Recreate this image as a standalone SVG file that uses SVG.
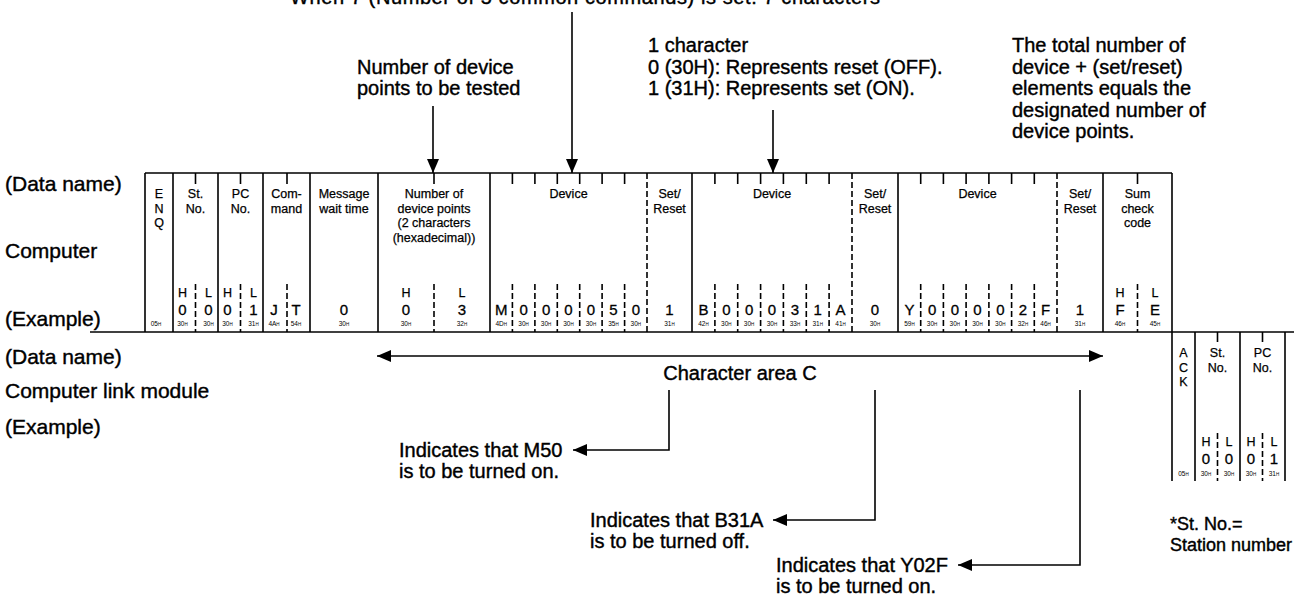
<svg xmlns="http://www.w3.org/2000/svg" width="1294" height="603" viewBox="0 0 1294 603">
<defs>
<marker id="ah" viewBox="0 0 14 12" refX="14" refY="6" markerWidth="14" markerHeight="12" markerUnits="userSpaceOnUse" orient="auto-start-reverse"><path d="M0,0 L14,6 L0,12 z" fill="#000"/></marker>
<style>
text{font-family:"Liberation Sans",Arial,sans-serif;fill:#000}
.a{font-size:20px;stroke:#000;stroke-width:0.4}
.l{font-size:21px;stroke:#000;stroke-width:0.4}
.n{font-size:18px;stroke:#000;stroke-width:0.4}
.h{font-size:12.5px;text-anchor:middle;stroke:#000;stroke-width:0.25}
.v{font-size:15px;text-anchor:middle;stroke:#000;stroke-width:0.3}
.x{font-size:6.5px;text-anchor:middle}
.x tspan{font-size:4.5px}
.s{stroke:#000;stroke-width:1.6;fill:none}
.d{stroke:#000;stroke-width:1.6;fill:none;stroke-dasharray:6 3}
.c{stroke:#000;stroke-width:1.6;fill:none}
</style>
</defs>
<rect width="1294" height="603" fill="#fff"/>

<g id="labels">
<text class="a" x="290" y="4" textLength="590" lengthAdjust="spacing">When 7 (Number of 5 common commands) is set: 7 characters</text>
<text class="a" x="357" y="74">Number of device</text>
<text class="a" x="357" y="95">points to be tested</text>
<text class="a" x="648" y="52">1 character</text>
<text class="a" x="648" y="74">0 (30H): Represents reset (OFF).</text>
<text class="a" x="648" y="95">1 (31H): Represents set (ON).</text>
<text class="a" x="1012" y="52">The total number of</text>
<text class="a" x="1012" y="74">device + (set/reset)</text>
<text class="a" x="1012" y="95">elements equals the</text>
<text class="a" x="1012" y="117">designated number of</text>
<text class="a" x="1012" y="138">device points.</text>
<text class="l" x="5" y="191">(Data name)</text>
<text class="l" x="5" y="258">Computer</text>
<text class="l" x="5" y="326">(Example)</text>
<text class="l" x="5" y="364">(Data name)</text>
<text class="l" x="5" y="398">Computer link module</text>
<text class="l" x="5" y="434">(Example)</text>
<text class="a" x="740" y="380" text-anchor="middle">Character area C</text>
<text class="a" x="399" y="457">Indicates that M50</text>
<text class="a" x="399" y="478">is to be turned on.</text>
<text class="a" x="590" y="527">Indicates that B31A</text>
<text class="a" x="590" y="548">is to be turned off.</text>
<text class="a" x="776" y="572">Indicates that Y02F</text>
<text class="a" x="776" y="593">is to be turned on.</text>
<text class="n" x="1170" y="530">*St. No.=</text>
<text class="n" x="1170" y="551">Station number</text>
</g>

<g id="computer-frame">
<path class="s" d="M145,173H1172 M145,173V332 M173,173V332 M218,173V332 M263,173V332 M310,173V332 M378,173V332 M490,173V332 M692,173V332 M898,173V332 M1103,173V332 M1172,173V332"/>
<path class="d" d="M647,173V332 M852,173V332 M1057,173V332"/>
<path class="s" d="M195.5,173V184 M240.5,173V184 M287,173V184 M434,173V184 M512.4,173V184 M534.9,173V184 M557.3,173V184 M579.7,173V184 M602.1,173V184 M624.6,173V184 M714.9,173V184 M737.7,173V184 M760.6,173V184 M783.4,173V184 M806.3,173V184 M829.1,173V184 M920.7,173V184 M943.4,173V184 M966.1,173V184 M988.9,173V184 M1011.6,173V184 M1034.3,173V184 M1137.5,173V184"/>
<path class="d" d="M195.5,284V332 M240.5,284V332 M287,284V332 M434,284V332 M512.4,284V332 M534.9,284V332 M557.3,284V332 M579.7,284V332 M602.1,284V332 M624.6,284V332 M714.9,284V332 M737.7,284V332 M760.6,284V332 M783.4,284V332 M806.3,284V332 M829.1,284V332 M920.7,284V332 M943.4,284V332 M966.1,284V332 M988.9,284V332 M1011.6,284V332 M1034.3,284V332 M1137.5,284V332"/>
<text class="h" x="159" y="198">E</text><text class="h" x="159" y="212.5">N</text><text class="h" x="159" y="227">Q</text>
<text class="h" x="195.5" y="198">St.</text><text class="h" x="195.5" y="212.5">No.</text>
<text class="h" x="240.5" y="198">PC</text><text class="h" x="240.5" y="212.5">No.</text>
<text class="h" x="286.5" y="198">Com-</text><text class="h" x="286.5" y="212.5">mand</text>
<text class="h" x="344" y="198">Message</text><text class="h" x="344" y="212.5">wait time</text>
<text class="h" x="434" y="198">Number of</text><text class="h" x="434" y="212.5">device points</text><text class="h" x="434" y="227">(2 characters</text><text class="h" x="434" y="241.5">(hexadecimal))</text>
<text class="h" x="568.5" y="198">Device</text>
<text class="h" x="669.5" y="198">Set/</text><text class="h" x="669.5" y="212.5">Reset</text>
<text class="h" x="772" y="198">Device</text>
<text class="h" x="875" y="198">Set/</text><text class="h" x="875" y="212.5">Reset</text>
<text class="h" x="977.5" y="198">Device</text>
<text class="h" x="1080" y="198">Set/</text><text class="h" x="1080" y="212.5">Reset</text>
<text class="h" x="1137.5" y="198">Sum</text><text class="h" x="1137.5" y="212.5">check</text><text class="h" x="1137.5" y="227">code</text>
<text class="h" x="182.5" y="297">H</text><text class="h" x="208.5" y="297">L</text>
<text class="h" x="227.5" y="297">H</text><text class="h" x="253.5" y="297">L</text>
<text class="h" x="406" y="297">H</text><text class="h" x="462" y="297">L</text>
<text class="h" x="1120" y="297">H</text><text class="h" x="1155" y="297">L</text>
<text class="v" x="182.5" y="315">0</text><text class="v" x="208.5" y="315">0</text>
<text class="v" x="227.5" y="315">0</text><text class="v" x="253.5" y="315">1</text>
<text class="v" x="274" y="315">J</text><text class="v" x="296" y="315">T</text>
<text class="v" x="344" y="315">0</text>
<text class="v" x="406" y="315">0</text><text class="v" x="462" y="315">3</text>
<text class="v" x="501.2" y="315">M</text><text class="v" x="523.6" y="315">0</text><text class="v" x="546.1" y="315">0</text><text class="v" x="568.5" y="315">0</text><text class="v" x="590.9" y="315">0</text><text class="v" x="613.4" y="315">5</text><text class="v" x="635.8" y="315">0</text>
<text class="v" x="669.5" y="315">1</text>
<text class="v" x="703.4" y="315">B</text><text class="v" x="726.3" y="315">0</text><text class="v" x="749.1" y="315">0</text><text class="v" x="772" y="315">0</text><text class="v" x="794.9" y="315">3</text><text class="v" x="817.7" y="315">1</text><text class="v" x="840.6" y="315">A</text>
<text class="v" x="875" y="315">0</text>
<text class="v" x="909.4" y="315">Y</text><text class="v" x="932.1" y="315">0</text><text class="v" x="954.8" y="315">0</text><text class="v" x="977.5" y="315">0</text><text class="v" x="1000.3" y="315">0</text><text class="v" x="1023" y="315">2</text><text class="v" x="1045.6" y="315">F</text>
<text class="v" x="1080" y="315">1</text>
<text class="v" x="1120" y="315">F</text><text class="v" x="1155" y="315">E</text>
<text class="x" x="156" y="326">05<tspan>H</tspan></text>
<text class="x" x="182.5" y="326">30<tspan>H</tspan></text><text class="x" x="208.5" y="326">30<tspan>H</tspan></text>
<text class="x" x="227.5" y="326">30<tspan>H</tspan></text><text class="x" x="253.5" y="326">31<tspan>H</tspan></text>
<text class="x" x="274" y="326">4A<tspan>H</tspan></text><text class="x" x="296" y="326">54<tspan>H</tspan></text>
<text class="x" x="344" y="326">30<tspan>H</tspan></text>
<text class="x" x="406" y="326">30<tspan>H</tspan></text><text class="x" x="462" y="326">32<tspan>H</tspan></text>
<text class="x" x="501.2" y="326">4D<tspan>H</tspan></text><text class="x" x="523.6" y="326">30<tspan>H</tspan></text><text class="x" x="546.1" y="326">30<tspan>H</tspan></text><text class="x" x="568.5" y="326">30<tspan>H</tspan></text><text class="x" x="590.9" y="326">30<tspan>H</tspan></text><text class="x" x="613.4" y="326">35<tspan>H</tspan></text><text class="x" x="635.8" y="326">30<tspan>H</tspan></text>
<text class="x" x="669.5" y="326">31<tspan>H</tspan></text>
<text class="x" x="703.4" y="326">42<tspan>H</tspan></text><text class="x" x="726.3" y="326">30<tspan>H</tspan></text><text class="x" x="749.1" y="326">30<tspan>H</tspan></text><text class="x" x="772" y="326">30<tspan>H</tspan></text><text class="x" x="794.9" y="326">33<tspan>H</tspan></text><text class="x" x="817.7" y="326">31<tspan>H</tspan></text><text class="x" x="840.6" y="326">41<tspan>H</tspan></text>
<text class="x" x="875" y="326">30<tspan>H</tspan></text>
<text class="x" x="909.4" y="326">59<tspan>H</tspan></text><text class="x" x="932.1" y="326">30<tspan>H</tspan></text><text class="x" x="954.8" y="326">30<tspan>H</tspan></text><text class="x" x="977.5" y="326">30<tspan>H</tspan></text><text class="x" x="1000.3" y="326">30<tspan>H</tspan></text><text class="x" x="1023" y="326">32<tspan>H</tspan></text><text class="x" x="1045.6" y="326">46<tspan>H</tspan></text>
<text class="x" x="1080" y="326">31<tspan>H</tspan></text>
<text class="x" x="1120" y="326">46<tspan>H</tspan></text><text class="x" x="1155" y="326">45<tspan>H</tspan></text>
</g>

<g id="ack-frame">
<path class="s" d="M1172,332V481 M1195,332V481 M1240,332V481 M1285,332V481 M1217.5,332V342 M1262.5,332V342"/>
<path class="d" d="M1217.5,433V481 M1262.5,433V481"/>
<text class="h" x="1183.5" y="357">A</text><text class="h" x="1183.5" y="371.5">C</text><text class="h" x="1183.5" y="386">K</text>
<text class="h" x="1217.5" y="357">St.</text><text class="h" x="1217.5" y="371.5">No.</text>
<text class="h" x="1262.5" y="357">PC</text><text class="h" x="1262.5" y="371.5">No.</text>
<text class="h" x="1206" y="446">H</text><text class="h" x="1229" y="446">L</text><text class="h" x="1251" y="446">H</text><text class="h" x="1274" y="446">L</text>
<text class="v" x="1206" y="464">0</text><text class="v" x="1229" y="464">0</text><text class="v" x="1251" y="464">0</text><text class="v" x="1274" y="464">1</text>
<text class="x" x="1183.5" y="476">05<tspan>H</tspan></text><text class="x" x="1206" y="476">30<tspan>H</tspan></text><text class="x" x="1229" y="476">30<tspan>H</tspan></text><text class="x" x="1251" y="476">30<tspan>H</tspan></text><text class="x" x="1274" y="476">31<tspan>H</tspan></text>
</g>

<g id="connectors">
<line class="s" x1="90" y1="332" x2="1294" y2="332" stroke-width="2"/>
<line class="c" x1="433" y1="106" x2="433" y2="173" marker-end="url(#ah)"/>
<line class="c" x1="572" y1="12" x2="572" y2="173" marker-end="url(#ah)"/>
<line class="c" x1="773" y1="110" x2="773" y2="173" marker-end="url(#ah)"/>
<line class="c" x1="377" y1="356" x2="1103" y2="356" marker-start="url(#ah)" marker-end="url(#ah)"/>
<polyline class="c" points="669,390 669,450 573,450" marker-end="url(#ah)"/>
<polyline class="c" points="875,390 875,520 773,520" marker-end="url(#ah)"/>
<polyline class="c" points="1080,390 1080,565 958,565" marker-end="url(#ah)"/>
</g>
</svg>
